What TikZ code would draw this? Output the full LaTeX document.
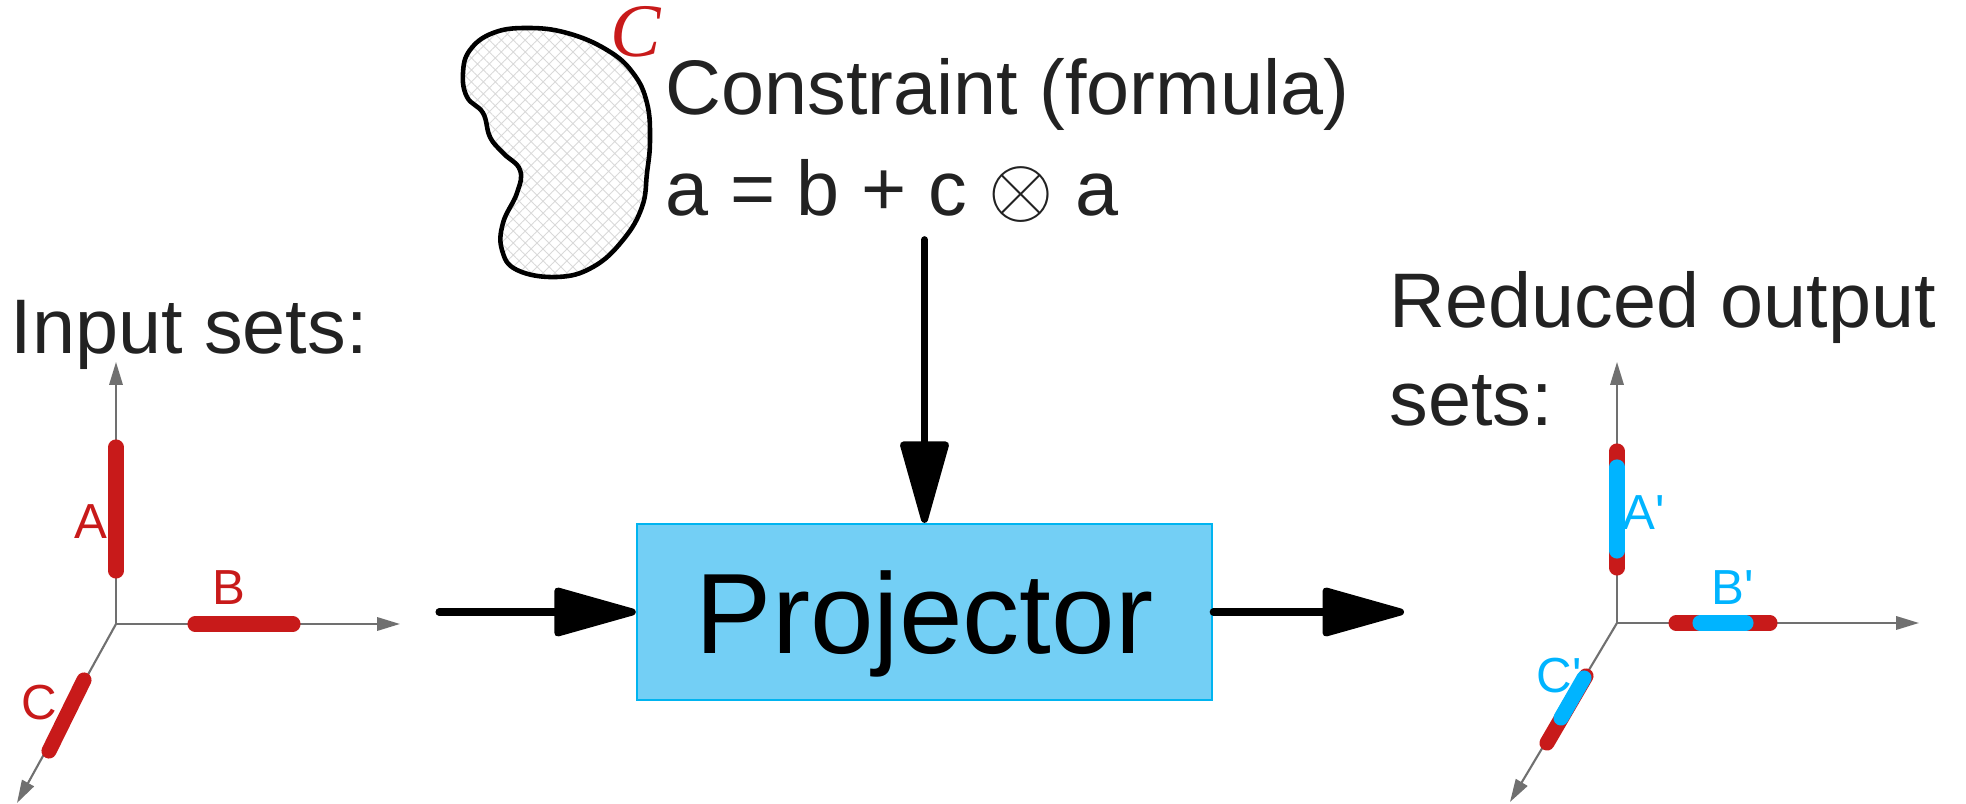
\documentclass[tikz,border=0pt]{standalone}
\usepackage{fontspec}
\setmainfont{Liberation Sans}
\newfontfamily\serifC{Liberation Serif}
\usepackage{tikz}
\usetikzlibrary{arrows.meta, positioning, patterns.meta}

\definecolor{setred}{RGB}{200,26,26}
\definecolor{setblue}{RGB}{0,180,255}
\definecolor{axisgray}{RGB}{112,112,112}
\definecolor{txtdark}{RGB}{34,34,34}
\definecolor{projfill}{RGB}{115,207,245}
\definecolor{projedge}{RGB}{0,180,240}

\begin{document}
\begin{tikzpicture}[
        x=0.01cm, y=-0.01cm,
        font=\fontsize{22}{28}\selectfont,
        flow/.style={line width=2pt, line cap=round, -{Triangle[length=26pt, width=14pt, round]}},
        axis/.style={axisgray, line width=0.6pt, -{Triangle[length=6.5pt, width=3.8pt]}},
        redbar/.style={setred, line width=4.3pt, line cap=round},
        bluebar/.style={setblue, line width=4.3pt, line cap=round},
        setlabel/.style={inner sep=0pt, font=\fontsize{14}{17}\selectfont},
        heading/.style={txtdark, inner sep=0pt, anchor=base west, align=left},
        projector/.style={rectangle, draw=projedge, line width=0.6pt, fill=projfill, minimum width=5.75cm, minimum height=1.76cm, text depth=0pt, font=\fontsize{32.5}{39}\selectfont}
    ]
    \useasboundingbox (0,0) rectangle (1966,804);

    % 1. Constraint blob and formula
    \draw[line width=1.3pt, pattern={Hatch[angle=45, distance=2.4pt, line width=0.25pt]}, pattern color=gray!30]
        plot[smooth cycle, tension=0.7] coordinates {(470,50) (493,33) (527,28) (567,33) (607,50) (633,73) (647,103) (650,140) (647,173) (642,207) (623,240) (593,267) (557,277) (517,270) (502,250) (503,223) (517,193) (520,170) (503,153) (490,137) (483,113) (467,97) (463,73)};
    \node[inner sep=0pt, setred, font=\serifC\itshape\fontsize{21.5}{24}\selectfont] (cmark) at (636,32) {C};
    \node[heading] (constraint) at (665,115) {Constraint (formula)};
    \node[heading] (formula) at (665,216) {a = b + c \scalebox{1.15}{$\otimes$} a};

    % 2. Projector block and its connectors
    \node[projector] (proj) at (924.5,612) {Projector};
    \coordinate (src) at (439,612);
    \coordinate (dst) at (1404,612);
    \draw[flow] ([yshift=-0.16cm]formula.south -| proj.north) -- (proj.north);
    \draw[flow] (src) -- (proj.west);
    \draw[flow] (proj.east) -- (dst);

    % 3. Input sets (left axes)
    \node[heading] (insets) at (10,354) {Input sets:};
    \coordinate (o1) at (116,624);
    \draw[axis] (o1) -- ++(0,-262);
    \draw[axis] (o1) -- ++(284,0);
    \draw[axis] (o1) -- ++(-99,179);
    \draw[redbar] (116,447) -- (116,571);
    \draw[redbar] (195,624) -- (293,624);
    \draw[redbar] (84,680) -- (49,751);
    \node[setlabel, setred] (la) at (91,522) {A};
    \node[setlabel, setred] (lb) at (229,588) {B};
    \node[setlabel, setred] (lc) at (39,703) {C};

    % 4. Reduced output sets (right axes)
    \node[heading] (outsets) at (1389,426) {Reduced output\\sets:};
    \coordinate (o2) at (1617,623);
    \draw[axis] (o2) -- ++(0,-261);
    \draw[axis] (o2) -- ++(302,0);
    \draw[axis] (o2) -- ++(-107,179);
    \draw[redbar] (1617,451) -- (1617,568);
    \draw[redbar] (1676,623) -- (1770,623);
    \draw[redbar] (1586,676) -- (1547,743);
    \draw[bluebar] (1617,467) -- (1617,551);
    \draw[bluebar] (1700,623) -- (1746,623);
    \draw[bluebar] (1584,678) -- (1561,718);
    \node[setlabel, setblue] (lap) at (1644,513) {A\textquotesingle};
    \node[setlabel, setblue] (lbp) at (1733,588) {B\textquotesingle};
    \node[setlabel, setblue] (lcp) at (1559,676) {C\textquotesingle};

\end{tikzpicture}
\end{document}
